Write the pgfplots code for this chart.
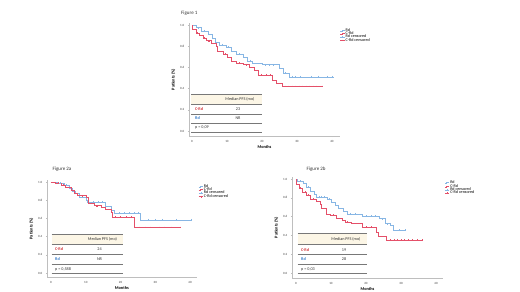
\documentclass[border=0pt]{standalone}
\usepackage{pgfplots}
\pgfplotsset{compat=1.18}
\usepackage{fontspec}
\setmainfont{Carlito}
\definecolor{rdblue}{RGB}{135,182,228}
\definecolor{crdred}{RGB}{228,80,105}
\definecolor{tblred}{RGB}{210,50,55}
\definecolor{tblblue}{RGB}{50,120,200}
\definecolor{beige}{RGB}{252,246,230}
\definecolor{axgray}{RGB}{190,190,190}
\definecolor{tlgray}{RGB}{120,120,120}
\pgfplotsset{
  km/.style={
    scale only axis,
    axis x line*=bottom, axis y line*=left,
    axis line style={draw=axgray, line width=0.4pt, -},
    tick style={draw=axgray, line width=0.3pt},
    major tick length=1.2pt, tick align=outside,
    xtick={0,10,20,30,40},
    ytick={0,0.2,0.4,0.6,0.8,1.0},
    /pgf/number format/assume math mode=true,
    ticklabel style={font=\fontsize{3.2}{3.6}\selectfont, text=black!75},
    yticklabel style={/pgf/number format/.cd, fixed, fixed zerofill, precision=1},
    xlabel={Months}, ylabel={Patients (\%)},
    label style={font=\bfseries\fontsize{4.3}{4.7}\selectfont},
    xlabel style={yshift=4.5pt},
    ylabel style={yshift=-2pt},
    legend cell align=left,
    legend style={draw=none, fill=none, font=\fontsize{4.1}{4.4}\selectfont,
      inner sep=0pt, row sep=-2.2pt, nodes={inner sep=0.6pt}},
    legend image code/.code={\draw[##1] (0pt,-0.6pt) -- (1.6pt,-0.6pt) -- (1.6pt,0.6pt) -- (4.5pt,0.6pt);},
  },
  rdline/.style={color=rdblue, line width=0.45pt, const plot, no marks},
  crdline/.style={color=crdred, line width=0.45pt, const plot, no marks},
  rdcens/.style={color=rdblue, only marks, mark=+, mark size=0.9pt, mark options={line width=0.35pt},
    legend image code/.code={\draw[mark repeat=2,mark phase=2,##1] plot coordinates {(0pt,0pt) (2.2pt,0pt) (4.5pt,0pt)}; \draw[rdblue,line width=0.35pt] (0pt,0pt)--(4.5pt,0pt);}},
  crdcens/.style={color=crdred, only marks, mark=+, mark size=0.9pt, mark options={line width=0.35pt},
    legend image code/.code={\draw[mark repeat=2,mark phase=2,##1] plot coordinates {(0pt,0pt) (2.2pt,0pt) (4.5pt,0pt)}; \draw[crdred,line width=0.35pt] (0pt,0pt)--(4.5pt,0pt);}},
}
\begin{document}
\begin{tikzpicture}
\useasboundingbox (0pt,0pt) rectangle (520pt,-292pt);
% ---------------- Figure 1
\begin{axis}[km, at={(189pt,-136pt)}, anchor=south west,
  width=151pt, height=113.1pt, xmin=-0.86, xmax=42.3, ymin=-0.047, ymax=1.02,
  legend style={at={(1.0,0.96)}, anchor=north west}]
\addplot[rdline] coordinates {(0,1.0) (1.1,0.975) (2.6,0.946) (4.5,0.915) (5.7,0.877) (6.7,0.84) (7.8,0.814) (9.7,0.79) (11.1,0.752) (12.6,0.726) (14.5,0.695) (15.9,0.663) (17.3,0.639) (20.0,0.626) (25,0.588) (26,0.547) (27.8,0.512) (40.2,0.512)};
\addlegendentry{Rd}
\addplot[crdline] coordinates {(0,1.0) (0.2,0.956) (1.1,0.925) (2.1,0.9) (3.1,0.877) (4.0,0.852) (5.4,0.83) (6.9,0.8) (7.3,0.752) (8.8,0.726) (10.2,0.695) (11.1,0.663) (12.6,0.64) (14.5,0.626) (16.4,0.6) (17.8,0.573) (19.0,0.53) (22.9,0.475) (24,0.45) (25.7,0.42) (37.1,0.42)};
\addlegendentry{C-Rd}
\addplot[rdcens] coordinates {(1.8,0.975) (3.5,0.946) (8.5,0.814) (10.3,0.79) (13.5,0.726) (16.5,0.663) (20.8,0.626) (22,0.626) (23.2,0.626) (26.5,0.547) (28.5,0.512) (29.5,0.512) (31,0.512) (34,0.512) (36,0.512) (38.5,0.512) (40.2,0.512)};
\addlegendentry{Rd censored}
\addplot[crdcens] coordinates {(1.6,0.925) (3.5,0.877) (4.8,0.852) (9.5,0.726) (13.5,0.64) (15.5,0.626) (19.8,0.53) (21.2,0.53) (22.4,0.53) (26.5,0.42) (27.5,0.42) (28.5,0.42) (29.5,0.42) (30.5,0.42) (31.5,0.42) (32.5,0.42) (33.5,0.42) (34.5,0.42) (35.5,0.42) (37.1,0.42)};
\addlegendentry{C-Rd censored}
\end{axis}
% ---------------- Figure 2a
\begin{axis}[km, at={(47pt,-277pt)}, anchor=south west,
  width=149.7pt, height=96.8pt, xmin=-1.15, xmax=41.9, ymin=-0.044, ymax=1.02,
  legend style={at={(1.01,0.965)}, anchor=north west}]
\addplot[rdline] coordinates {(0,1.0) (1.8,0.985) (3.7,0.967) (5.2,0.93) (6.1,0.9) (7.1,0.875) (8.1,0.83) (10,0.8) (10.4,0.78) (15.7,0.73) (17.2,0.69) (18.1,0.66) (25.8,0.585) (40.2,0.585)};
\addlegendentry{Rd}
\addplot[crdline] coordinates {(0,1.0) (1.3,0.985) (2.8,0.967) (4.2,0.94) (5.7,0.91) (6.8,0.875) (7.6,0.85) (10,0.83) (10.6,0.765) (12.4,0.74) (14.3,0.72) (15.7,0.70) (17.2,0.667) (17.6,0.615) (23.9,0.5) (37.1,0.5)};
\addlegendentry{C-Rd}
\addplot[rdcens] coordinates {(2.5,0.985) (4.5,0.967) (9,0.83) (12,0.78) (13.5,0.78) (14.8,0.78) (19.5,0.66) (21,0.66) (22.5,0.66) (24,0.66) (25,0.66) (28,0.585) (30,0.585) (32,0.585) (36,0.585) (40.2,0.585)};
\addlegendentry{Rd censored}
\addplot[crdcens] coordinates {(2,0.985) (3.5,0.967) (5,0.94) (9,0.85) (11.5,0.765) (13.3,0.74) (18.5,0.615) (20,0.615) (21.5,0.615) (23,0.615) (25.5,0.5) (27,0.5) (28.5,0.5) (31,0.5) (32.5,0.5) (34.5,0.5) (37.1,0.5)};
\addlegendentry{C-Rd censored}
\end{axis}
% ---------------- Figure 2b
\begin{axis}[km, at={(292pt,-278pt)}, anchor=south west,
  width=151pt, height=100.9pt, xmin=-1.14, xmax=42, ymin=-0.053, ymax=1.02,
  legend style={at={(1.01,0.97)}, anchor=north west}]
\addplot[rdline] coordinates {(0,1.0) (0.4,0.975) (2.1,0.95) (3.0,0.915) (4.2,0.87) (5.1,0.833) (5.9,0.81) (8.8,0.784) (10.2,0.755) (11.1,0.72) (12.1,0.684) (13.5,0.656) (14.5,0.63) (18.8,0.606) (23.8,0.578) (25.4,0.525) (26.9,0.505) (27.8,0.455) (31.1,0.455)};
\addlegendentry{Rd}
\addplot[crdline] coordinates {(0,1.0) (0.1,0.94) (0.9,0.905) (1.9,0.86) (3.0,0.826) (4.2,0.784) (5.9,0.762) (7.0,0.727) (7.3,0.684) (8.6,0.63) (9.7,0.613) (11.6,0.585) (13.1,0.56) (14.0,0.543) (15.9,0.525) (19.0,0.49) (22.9,0.436) (23.5,0.394) (25.9,0.348) (36.1,0.348)};
\addlegendentry{C-Rd}
\addplot[rdcens] coordinates {(1.2,0.975) (3.5,0.915) (6.5,0.81) (7.3,0.81) (8,0.81) (9.5,0.784) (15.5,0.63) (17,0.63) (20,0.606) (21.5,0.606) (22.7,0.606) (24.5,0.578) (26,0.525) (29.5,0.455) (31.1,0.455)};
\addlegendentry{Rd censored}
\addplot[crdcens] coordinates {(1.2,0.905) (2.5,0.86) (3.5,0.826) (5,0.784) (10.5,0.613) (14.7,0.543) (20,0.49) (21.5,0.49) (27,0.348) (28,0.348) (29,0.348) (30,0.348) (31,0.348) (32,0.348) (33.2,0.348) (34.5,0.348) (36.1,0.348)};
\addlegendentry{C-Rd censored}
\end{axis}
% ---------------- titles and tables
\begin{scope}[x=1pt, y=-1pt]
\tikzset{ttl/.style={anchor=west, font=\fontsize{5}{5.5}\selectfont, text=black!80, inner sep=0pt},
  tb/.style={font=\fontsize{4.2}{4.6}\selectfont, inner sep=0pt, text=black!80},
  tl/.style={draw=tlgray, line width=0.7pt}}
\node[ttl] at (181,13) {Figure 1};
\node[ttl] at (52.5,169) {Figure 2a};
\node[ttl] at (306.5,169) {Figure 2b};
% table 1
\fill[beige] (191,94.5) rectangle (262,104.5);
\draw[tl] (191,94.5) -- (262,94.5);
\draw[tl] (191,104.5) -- (262,104.5);
\draw[tl] (191,114) -- (262,114);
\draw[tl] (191,123) -- (262,123);
\draw[tl, line width=1pt] (191,132) -- (262,132);
\node[tb] at (240,99.5) {Median PFS (mo)};
\node[tb, anchor=west, text=tblred] at (195,109.3) {\bfseries C-Rd};
\node[tb] at (238,109.3) {23};
\node[tb, anchor=west, text=tblblue] at (195,118.5) {\bfseries Rd};
\node[tb] at (238,118.5) {NR};
\node[tb, anchor=west] at (195,127.7) {p = 0,09};
% table 2a
\fill[beige] (51.7,234) rectangle (122.5,244);
\draw[tl] (51.7,234) -- (122.5,234);
\draw[tl] (51.7,244) -- (122.5,244);
\draw[tl] (51.7,254.3) -- (122.5,254.3);
\draw[tl] (51.7,264) -- (122.5,264);
\draw[tl, line width=1pt] (51.7,273.7) -- (122.5,273.7);
\node[tb] at (102.5,239) {Median PFS (mo)};
\node[tb, anchor=west, text=tblred] at (55,249.3) {\bfseries C-Rd};
\node[tb] at (99.5,249.3) {24};
\node[tb, anchor=west, text=tblblue] at (55,259.2) {\bfseries Rd};
\node[tb] at (99.5,259.2) {NR};
\node[tb, anchor=west] at (55,269.2) {p = 0,588};
% table 2b
\fill[beige] (297.5,233.5) rectangle (367,244.3);
\draw[tl] (297.5,233.5) -- (367,233.5);
\draw[tl] (297.5,244.3) -- (367,244.3);
\draw[tl] (297.5,254.8) -- (367,254.8);
\draw[tl] (297.5,264.3) -- (367,264.3);
\draw[tl, line width=1pt] (297.5,273.7) -- (367,273.7);
\node[tb] at (346,239) {Median PFS (mo)};
\node[tb, anchor=west, text=tblred] at (301,249.8) {\bfseries C-Rd};
\node[tb] at (344,249.8) {19};
\node[tb, anchor=west, text=tblblue] at (301,259.5) {\bfseries Rd};
\node[tb] at (344,259.5) {28};
\node[tb, anchor=west] at (301,269.4) {p = 0,03};
\end{scope}
\end{tikzpicture}
\end{document}
